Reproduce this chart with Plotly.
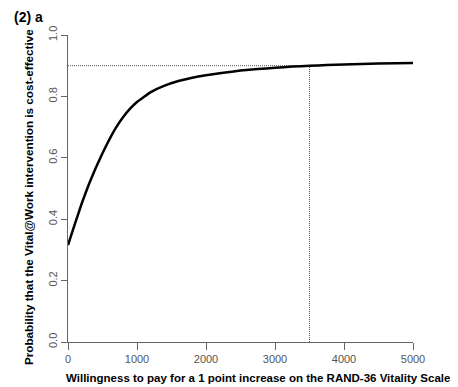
import plotly.graph_objects as go

# Willingness to pay (x) and probability cost-effective (y)
wtp = [0, 100, 200, 300, 400, 500, 600, 700, 800, 900, 1000, 1200, 1400, 1600,
       1800, 2000, 2250, 2500, 2750, 3000, 3250, 3500, 3750, 4000, 4500, 5000]
prob = [0.316, 0.385, 0.452, 0.512, 0.566, 0.615, 0.660, 0.700, 0.733, 0.760,
        0.782, 0.814, 0.835, 0.850, 0.861, 0.869, 0.877, 0.884, 0.889, 0.893,
        0.897, 0.900, 0.902, 0.904, 0.907, 0.909]

threshold_wtp = 3500
threshold_prob = 0.9

x_ticks = [0, 1000, 2000, 3000, 4000, 5000]
y_ticks = [0.0, 0.2, 0.4, 0.6, 0.8, 1.0]
y_tick_labels = ["0.0", "0.2", "0.4", "0.6", "0.8", "1.0"]

title_text = "(2) a"
x_title = "Willingness to pay for a 1 point increase on the RAND-36 Vitality Scale"
y_title = "Probability that the Vital@Work intervention is cost-effective"

# page has an 8px body margin: figure sits at (8, 8)
OFF = 8
W, H = 458 - OFF, 387 - OFF
L, R, T, B = 68 - OFF, 45, 35 - OFF, 45
PW, PH = W - L - R, H - T - B


def px_x(page_x):
    return (page_x - OFF - L) / PW


def px_y(page_y):
    return 1 - (page_y - OFF - T) / PH


fig = go.Figure()
dot_style = dict(color="#555555", width=1, dash="1px,1px")
fig.add_trace(go.Scatter(x=[0, threshold_wtp], y=[threshold_prob, threshold_prob],
                         mode="lines", line=dot_style, hoverinfo="skip"))
fig.add_trace(go.Scatter(x=[threshold_wtp, threshold_wtp], y=[0, threshold_prob],
                         mode="lines", line=dot_style, hoverinfo="skip"))
fig.add_trace(go.Scatter(x=wtp, y=prob, mode="lines",
                         line=dict(color="black", width=2.5, shape="spline", smoothing=0.3)))

axis_font = dict(family="Liberation Sans, Arial, sans-serif", size=11, color="#555555")

fig.update_layout(
    width=W, height=H,
    margin=dict(l=L, r=R, t=T, b=B),
    paper_bgcolor="white", plot_bgcolor="white",
    showlegend=False,
    xaxis=dict(range=[0, 5000], tickvals=x_ticks, ticktext=[str(v) for v in x_ticks],
               showgrid=False, zeroline=False, showline=True, linecolor="#666666",
               linewidth=1, ticks="outside", ticklen=7, tickcolor="#666666",
               tickfont=axis_font, fixedrange=True, automargin=False),
    yaxis=dict(range=[0, 1], tickvals=y_ticks, ticktext=y_tick_labels,
               showgrid=False, zeroline=False, showline=True, linecolor="#666666",
               linewidth=1, ticks="outside", ticklen=6, tickcolor="#666666",
               tickfont=axis_font, tickangle=-90, fixedrange=True, automargin=False),
)

fig.add_annotation(text="<b>" + x_title + "</b>", xref="paper", yref="paper",
                   x=px_x(258), y=px_y(378),
                   showarrow=False, xanchor="center", yanchor="middle",
                   font=dict(family="Liberation Sans, Arial, sans-serif", size=11.5, color="black"))
fig.add_annotation(text="<b>" + y_title + "</b>", xref="paper", yref="paper",
                   x=px_x(28), y=px_y(197),
                   showarrow=False, textangle=-90, xanchor="center", yanchor="middle",
                   font=dict(family="Liberation Sans, Arial, sans-serif", size=11.7, color="black"))
fig.add_annotation(text="<b>" + title_text + "</b>", xref="paper", yref="paper",
                   x=px_x(12), y=px_y(17),
                   showarrow=False, xanchor="left", yanchor="middle",
                   font=dict(family="Liberation Sans, Arial, sans-serif", size=14, color="black"))

fig.write_html("out.html")
